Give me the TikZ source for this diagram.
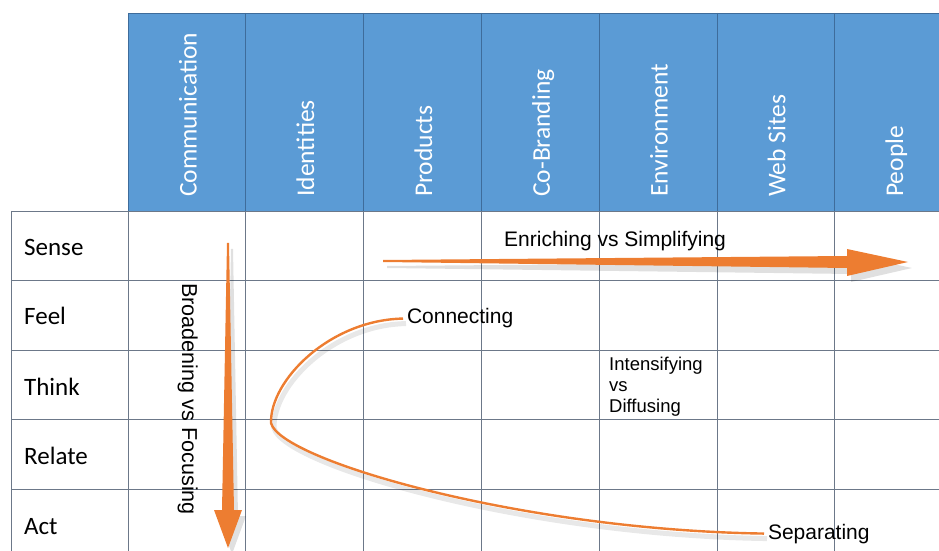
\documentclass[tikz,border=0pt]{standalone}
\usepackage{fontspec}
\setmainfont{Liberation Sans}
\newfontfamily\gridfont{Carlito}
\definecolor{headblue}{RGB}{91,155,213}
\definecolor{headline}{RGB}{62,108,155}
\definecolor{gridgray}{RGB}{108,120,137}
\definecolor{arroworange}{RGB}{237,125,49}
\tikzset{
  head/.style={rotate=90, anchor=base west, inner sep=0, text=white, font=\gridfont\fontsize{25.5bp}{25bp}\selectfont},
  rowlabel/.style={anchor=base west, inner sep=0, font=\gridfont\fontsize{25bp}{25bp}\selectfont},
  note/.style={anchor=base west, inner sep=0, font=\fontsize{21bp}{21bp}\selectfont},
  tag/.style={note, outer sep=4bp},
  gridline/.style={draw=gridgray, line width=0.9bp},
  headrule/.style={draw=headline, line width=0.9bp},
  swoop/.style={draw=arroworange, line width=2.4bp},
  shade/.style={draw=black, opacity=0.09, line width=5bp, transform canvas={shift={(3bp,-5bp)}}},
  blockarrow/.style={fill=arroworange},
  blockshade/.style={fill=black, opacity=0.12, transform canvas={shift={(4bp,-6bp)}}}
}
\begin{document}
\begin{tikzpicture}[x=1bp,y=-1bp]
\useasboundingbox (0,0) rectangle (939,551);
\clip (0,0) rectangle (939,551);
% header band
\fill[headblue] (128,13) rectangle (953,211);
\draw[headrule] (128,13) -- (953,13);
\draw[headrule] (128,13) -- (128,211);
\draw[headrule] (245.8,13) -- (245.8,211);
\draw[headrule] (363.6,13) -- (363.6,211);
\draw[headrule] (481.4,13) -- (481.4,211);
\draw[headrule] (599.2,13) -- (599.2,211);
\draw[headrule] (717,13) -- (717,211);
\draw[headrule] (834.8,13) -- (834.8,211);
% grid
\draw[gridline] (11,211) -- (953,211);
\draw[gridline] (11,280.5) -- (953,280.5);
\draw[gridline] (11,350) -- (953,350);
\draw[gridline] (11,419.5) -- (953,419.5);
\draw[gridline] (11,489) -- (953,489);
\draw[gridline] (11,211) -- (11,560);
\draw[gridline] (128,211) -- (128,560);
\draw[gridline] (245.8,211) -- (245.8,560);
\draw[gridline] (363.6,211) -- (363.6,560);
\draw[gridline] (481.4,211) -- (481.4,560);
\draw[gridline] (599.2,211) -- (599.2,560);
\draw[gridline] (717,211) -- (717,560);
\draw[gridline] (834.8,211) -- (834.8,560);
% column heads
\node[head] (communication) at (196.5,197) {Communication};
\node[head] (identities) at (314.2,197) {Identities};
\node[head] (products) at (432,197) {Products};
\node[head] (cobranding) at (549.8,197) {Co-Branding};
\node[head] (environment) at (667.6,197) {Environment};
\node[head] (websites) at (785.4,197) {Web Sites};
\node[head] (people) at (903.2,197) {People};
% row heads
\node[rowlabel] (sense) at (24,256) {Sense};
\node[rowlabel] (feel) at (24,325) {Feel};
\node[rowlabel] (think) at (24,395) {Think};
\node[rowlabel] (relate) at (24,464) {Relate};
\node[rowlabel] (act) at (24,534) {Act};
% block arrows
\fill[blockshade] (383,260) -- (383,262) -- (847,268) -- (847,276) -- (908,262) -- (847,249) -- (847,256) -- cycle;
\fill[blockarrow] (383,260) -- (383,262) -- (847,268) -- (847,276) -- (908,262) -- (847,249) -- (847,256) -- cycle;
\fill[blockshade] (227,243) -- (229,243) -- (234,510) -- (242,510) -- (228,548) -- (214,510) -- (222,510) -- cycle;
\fill[blockarrow] (227,243) -- (229,243) -- (234,510) -- (242,510) -- (228,548) -- (214,510) -- (222,510) -- cycle;
% labels
\node[note] (enriching) at (504,247) {Enriching vs Simplifying};
\node[note, rotate=-90, font=\fontsize{21.6bp}{21bp}\selectfont] (broadening) at (182,283) {Broadening vs Focusing};
\node[anchor=north west, inner sep=0, align=left, font=\fontsize{18.5bp}{21bp}\selectfont] (intensifying) at (609,356.5) {Intensifying\\vs\\Diffusing};
\node[tag] (connecting) at (403,324) {Connecting};
\node[tag] (separating) at (764,539) {Separating};
% curve
\draw[shade] (connecting.west) .. controls (330,320) and (270,380) .. (271,423) .. controls (280,460) and (520,530) .. (separating.west);
\draw[swoop] (connecting.west) .. controls (330,320) and (270,380) .. (271,423) .. controls (280,460) and (520,530) .. (separating.west);
\end{tikzpicture}
\end{document}
